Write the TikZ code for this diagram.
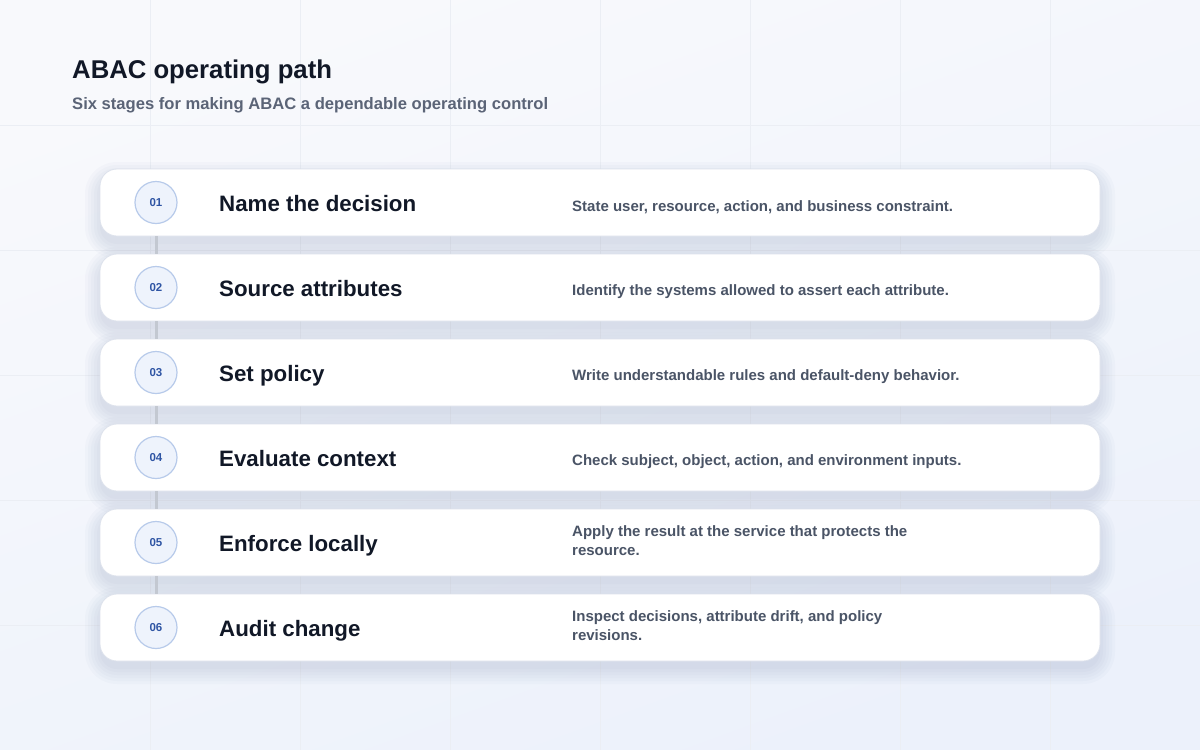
\documentclass[tikz,border=0pt]{standalone}
\usepackage{fontspec}
\setmainfont{Liberation Sans}

\definecolor{ink}{HTML}{111827}
\definecolor{subgray}{HTML}{5B6477}
\definecolor{textgray}{HTML}{4A5466}
\definecolor{bgtop}{HTML}{F8F9FC}
\definecolor{bgbottom}{HTML}{ECF1FB}
\definecolor{gridline}{HTML}{EBEEF4}
\definecolor{cardline}{HTML}{DDE2EC}
\definecolor{badgefill}{HTML}{EEF3FC}
\definecolor{badgeline}{HTML}{B7CAEA}
\definecolor{badgetext}{HTML}{2F55A4}
\definecolor{linkgray}{HTML}{C3C8D1}
\definecolor{shadowblue}{HTML}{7585AA}

\tikzset{
  card/.style={draw=cardline, fill=white, line width=0.8pt, rounded corners=17pt,
    minimum width=1000pt, minimum height=67pt},
  badge/.style={circle, draw=badgeline, fill=badgefill, line width=1.2pt,
    minimum size=42pt, inner sep=0pt, text=badgetext,
    font=\bfseries\fontsize{11.5}{14}\selectfont},
  stagename/.style={anchor=base west, inner sep=0pt, text=ink,
    font=\bfseries\fontsize{22.3}{27}\selectfont},
  stagenote/.style={anchor=west, inner sep=0pt, align=left, text=textgray,
    font=\bfseries\fontsize{15}{19}\selectfont},
  link/.style={draw=linkgray, line width=3pt}
}

% soft shadow under a card centred at height #1
\newcommand\cardshade[1]{%
  \foreach \s in {0,3,...,15}
    \fill[shadowblue, fill opacity=0.035, rounded corners=17+\s]
      (100-\s,#1-25.5-\s) rectangle (1100+\s,#1+41.5+\s);}

\begin{document}
\begin{tikzpicture}[x=1pt,y=-1pt]
\useasboundingbox (0,0) rectangle (1200,750);
% backdrop
\shade[top color=bgtop, bottom color=bgbottom, shading angle=20] (0,0) rectangle (1200,750);
\foreach \gx in {150,300,...,1050} \draw[gridline, line width=0.8pt] (\gx,0) -- (\gx,750);
\foreach \gy in {125,250,...,625} \draw[gridline, line width=0.8pt] (0,\gy) -- (1200,\gy);

% heading
\node[anchor=base west, inner sep=0pt, text=ink, font=\bfseries\fontsize{25.7}{30}\selectfont]
  (title) at (72,78) {ABAC operating path};
\node[anchor=base west, inner sep=0pt, text=subgray, font=\bfseries\fontsize{16.6}{19}\selectfont]
  (subtitle) at (72,109) {Six stages for making ABAC a dependable operating control};

% shadows
\cardshade{202.5} \cardshade{287.5} \cardshade{372.5}
\cardshade{457.5} \cardshade{542.5} \cardshade{627.5}

% stage cards
\node[card] (c1) at (600,202.5) {};
\node[card] (c2) at (600,287.5) {};
\node[card] (c3) at (600,372.5) {};
\node[card] (c4) at (600,457.5) {};
\node[card] (c5) at (600,542.5) {};
\node[card] (c6) at (600,627.5) {};

\node[badge] (b1) at (156,202.5) {01};
\node[badge] (b2) at (156,287.5) {02};
\node[badge] (b3) at (156,372.5) {03};
\node[badge] (b4) at (156,457.5) {04};
\node[badge] (b5) at (156,542.5) {05};
\node[badge] (b6) at (156,627.5) {06};

% links between cards
\draw[link] (b1 |- c1.south) -- (b2 |- c2.north);
\draw[link] (b2 |- c2.south) -- (b3 |- c3.north);
\draw[link] (b3 |- c3.south) -- (b4 |- c4.north);
\draw[link] (b4 |- c4.south) -- (b5 |- c5.north);
\draw[link] (b5 |- c5.south) -- (b6 |- c6.north);

\node[stagename] (n1) at (219,211.5) {Name the decision};
\node[stagename] (n2) at (219,296.5) {Source attributes};
\node[stagename] (n3) at (219,381.5) {Set policy};
\node[stagename] (n4) at (219,466.5) {Evaluate context};
\node[stagename] (n5) at (219,551.5) {Enforce locally};
\node[stagename] (n6) at (219,636.5) {Audit change};

\node[stagenote] (d1) at (572,207) {State user, resource, action, and business constraint.};
\node[stagenote] (d2) at (572,292) {Identify the systems allowed to assert each attribute.};
\node[stagenote] (d3) at (572,377) {Write understandable rules and default-deny behavior.};
\node[stagenote] (d4) at (572,462) {Check subject, object, action, and environment inputs.};
\node[stagenote] (d5) at (572,541) {Apply the result at the service that protects the\\resource.};
\node[stagenote] (d6) at (572,626) {Inspect decisions, attribute drift, and policy\\revisions.};
\end{tikzpicture}
\end{document}
